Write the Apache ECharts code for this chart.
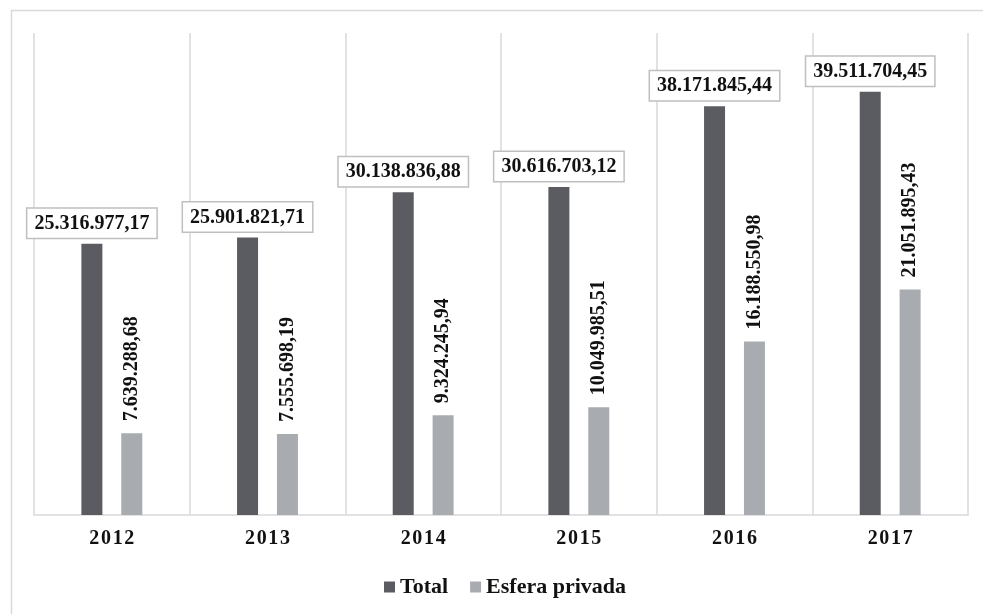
<!DOCTYPE html>
<html>
<head>
<meta charset="utf-8">
<script src="https://cdn.jsdelivr.net/npm/echarts@6/dist/echarts.min.js"></script>
<style>
  html, body { margin: 0; padding: 0; background: #fff; }
  #myChart { width: 983px; height: 614px; }
</style>
</head>
<body>
<div id="myChart"></div>
<script>
// dados
var anos = ['2012', '2013', '2014', '2015', '2016', '2017']
var total = [25316977.17, 25901821.71, 30138836.88, 30616703.12, 38171845.44, 39511704.45]
var esferaPrivada = [7639288.68, 7555698.19, 9324245.94, 10049985.51, 16188550.98, 21051895.43]

var fonte = '"Liberation Serif", "Times New Roman", serif'

// 25316977.17 -> 25.316.977,17
function formatBR (v) {
  var parts = v.toFixed(2).split('.')
  var inteiro = parts[0].replace(/\B(?=(\d{3})+(?!\d))/g, '.')
  return inteiro + ',' + parts[1]
}

var myChart = echarts.init(document.getElementById('myChart'))
myChart.setOption({
  backgroundColor: '#fff',
  animation: false,
  color: ['#5b5c61', '#a8abaf'],
  graphic: [
    {
      type: 'rect',
      left: 9,
      top: 8,
      shape: { width: 1000, height: 640 },
      style: { fill: 'none', stroke: '#d9d9d9', lineWidth: 1.5 },
      silent: true
    }
  ],
  grid: {
    left: 34,
    right: 15,
    top: 33,
    bottom: 99
  },
  legend: {
    data: ['Total', 'Esfera privada'],
    left: 379,
    top: 571,
    icon: 'rect',
    itemWidth: 11,
    itemHeight: 11,
    itemGap: 22,
    textStyle: {
      fontFamily: fonte,
      fontWeight: 'bold',
      fontSize: 22,
      color: '#111'
    }
  },
  xAxis: {
    type: 'category',
    data: anos,
    axisLine: { lineStyle: { color: '#d9d9d9', width: 1.5 } },
    axisTick: { show: false },
    splitLine: { show: true, lineStyle: { color: '#d9d9d9', width: 1.5 } },
    axisLabel: {
      margin: 14,
      fontFamily: fonte,
      fontWeight: 'bold',
      fontSize: 20,
      color: '#111',
      // letras espaçadas como no original
      formatter: function (v) {
        return v.split('').join('\u200a')
      }
    }
  },
  yAxis: {
    type: 'value',
    min: 0,
    max: 45000000,
    show: false,
    splitLine: { show: false }
  },
  series: [
    {
      name: 'Total',
      type: 'bar',
      data: total,
      barWidth: 21,
      barGap: '90%',
      label: {
        show: true,
        position: 'top',
        distance: 6,
        fontFamily: fonte,
        fontWeight: 'bold',
        fontSize: 20,
        color: '#111',
        backgroundColor: '#fff',
        borderColor: '#bfbfbf',
        borderWidth: 1.5,
        padding: [5, 7, 4, 7],
        formatter: function (p) {
          return formatBR(p.value)
        }
      }
    },
    {
      name: 'Esfera privada',
      type: 'bar',
      data: esferaPrivada,
      barWidth: 21,
      label: {
        show: true,
        position: 'top',
        distance: 12,
        rotate: 90,
        align: 'left',
        verticalAlign: 'middle',
        fontFamily: fonte,
        fontWeight: 'bold',
        fontSize: 20,
        color: '#111',
        formatter: function (p) {
          return formatBR(p.value)
        }
      }
    }
  ]
})
</script>
</body>
</html>
